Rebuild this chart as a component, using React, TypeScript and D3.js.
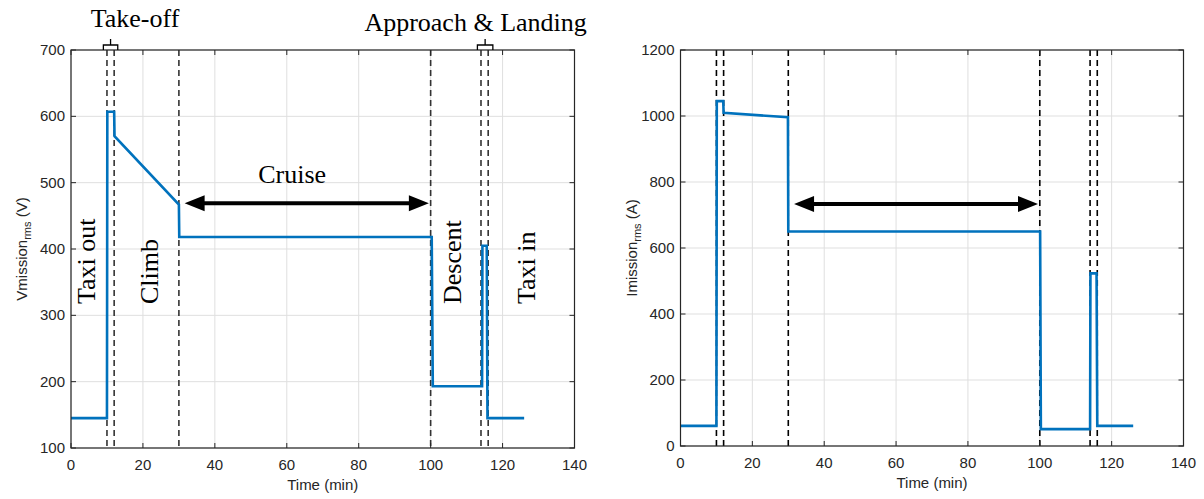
import React from 'react';
import * as d3 from 'd3';

// ---- data ----
const timeTicks = [0, 20, 40, 60, 80, 100, 120, 140];
const vTicks = [100, 200, 300, 400, 500, 600, 700];
const iTicks = [0, 200, 400, 600, 800, 1000, 1200];
const phaseTimes = [10, 12, 30, 100, 114, 116];

const vTime = [0, 10, 10.1, 12, 12.1, 30, 30.1, 100.3, 100.6, 114.3, 114.4, 115.6, 115.8, 126];
const vValue = [145, 145, 607, 607, 570, 467, 418, 418, 193, 193, 405, 405, 145, 145];

const iTime = [0, 10, 10.1, 11.9, 12, 29.9, 30, 100.1, 100.3, 114, 114.1, 115.8, 116, 126];
const iValue = [61, 61, 1045, 1045, 1010, 996, 650, 650, 51, 51, 523, 523, 61, 61];

const phaseLabels = ['Taxi out', 'Climb', 'Descent', 'Taxi in'];
const phaseLabelTimes = [6.7, 24.2, 108.5, 129];

const FONT = '"Liberation Sans", Arial, sans-serif';
const SERIF = '"Liberation Serif", "Times New Roman", serif';
const BLUE = '#0072BD';

type PanelProps = {
  left: number; right: number; top: number; bottom: number;
  yDomain: [number, number]; yTicks: number[];
  time: number[]; values: number[];
  yName: string; yUnit: string; labelX: number;
  dashColor: string; arrowValue: number; annotate: boolean;
};

function Arrow({ x1, x2, y }: { x1: number; x2: number; y: number }) {
  const hl = 20, hw = 8;
  return (
    <g>
      <line x1={x1 + hl - 2} x2={x2 - hl + 2} y1={y} y2={y} stroke="#000" strokeWidth={4} />
      <path d={`M${x1},${y} L${x1 + hl},${y - hw} L${x1 + hl},${y + hw} Z`} fill="#000" />
      <path d={`M${x2},${y} L${x2 - hl},${y - hw} L${x2 - hl},${y + hw} Z`} fill="#000" />
    </g>
  );
}

function Bracket({ xa, xb, y }: { xa: number; xb: number; y: number }) {
  const xm = (xa + xb) / 2;
  return (
    <path
      d={`M${xa},${y} L${xa},${y - 5} L${xb},${y - 5} L${xb},${y} M${xm},${y - 5} L${xm},${y - 11}`}
      fill="none" stroke="#000" strokeWidth={1.3}
    />
  );
}

function Panel(p: PanelProps) {
  const x = d3.scaleLinear().domain([0, 140]).range([p.left, p.right]);
  const y = d3.scaleLinear().domain(p.yDomain).range([p.bottom, p.top]);
  const pts: [number, number][] = p.time.map((t, i) => [t, p.values[i]]);
  const line = d3.line<[number, number]>().x(d => x(d[0])).y(d => y(d[1]));
  const midY = (p.top + p.bottom) / 2;
  const midX = (p.left + p.right) / 2;
  return (
    <g>
      {/* grid */}
      {timeTicks.map(t => (
        <line key={'gx' + t} x1={x(t)} x2={x(t)} y1={p.top} y2={p.bottom} stroke="#dfdfdf" strokeWidth={1} />
      ))}
      {p.yTicks.map(v => (
        <line key={'gy' + v} x1={p.left} x2={p.right} y1={y(v)} y2={y(v)} stroke="#dfdfdf" strokeWidth={1} />
      ))}
      {/* phase dashed lines */}
      {phaseTimes.map(t => (
        <line key={'ph' + t} x1={x(t)} x2={x(t)} y1={p.top} y2={p.bottom}
          stroke={p.dashColor} strokeWidth={1.6} strokeDasharray="6,4" />
      ))}
      {/* data line */}
      <path d={line(pts) || ''} fill="none" stroke={BLUE} strokeWidth={2.6} strokeLinejoin="miter" />
      {/* box */}
      <rect x={p.left} y={p.top} width={p.right - p.left} height={p.bottom - p.top}
        fill="none" stroke="#262626" strokeWidth={1.2} />
      {/* ticks */}
      {timeTicks.map(t => (
        <g key={'tx' + t}>
          <line x1={x(t)} x2={x(t)} y1={p.bottom} y2={p.bottom - 5} stroke="#262626" />
          <line x1={x(t)} x2={x(t)} y1={p.top} y2={p.top + 5} stroke="#262626" />
          <text x={x(t)} y={p.bottom + 22} textAnchor="middle" fontFamily={FONT} fontSize={15} fill="#262626">{t}</text>
        </g>
      ))}
      {p.yTicks.map(v => (
        <g key={'ty' + v}>
          <line x1={p.left} x2={p.left + 5} y1={y(v)} y2={y(v)} stroke="#262626" />
          <line x1={p.right} x2={p.right - 5} y1={y(v)} y2={y(v)} stroke="#262626" />
          <text x={p.left - 6} y={y(v) + 5} textAnchor="end" fontFamily={FONT} fontSize={15} fill="#262626">{v}</text>
        </g>
      ))}
      <text x={midX} y={p.bottom + 42} textAnchor="middle" fontFamily={FONT} fontSize={15} fill="#262626">Time (min)</text>
      <text transform={`translate(${p.labelX},${midY}) rotate(-90)`} textAnchor="middle" fontFamily={FONT} fontSize={15} fill="#262626">
        {p.yName}<tspan fontSize={11} dy={4}>rms</tspan><tspan dy={-4}> ({p.yUnit})</tspan>
      </text>
      <Arrow x1={x(31.6)} x2={x(99.5)} y={y(p.arrowValue)} />
      {p.annotate && (
        <g fontFamily={SERIF} fontSize={26} fill="#000">
          <Bracket xa={x(9)} xb={x(13)} y={p.top} />
          <Bracket xa={x(113)} xb={x(117.3)} y={p.top} />
          <text x={x(17.8)} y={p.top - 23} textAnchor="middle">Take-off</text>
          <text x={x(112.5)} y={p.top - 19} textAnchor="middle">Approach &amp; Landing</text>
          <text x={x(61.5)} y={y(p.arrowValue) - 20} textAnchor="middle">Cruise</text>
          {phaseLabels.map((s, i) => (
            <text key={s} transform={`translate(${x(phaseLabelTimes[i])},${p.bottom - 144}) rotate(-90)`} textAnchor="start">{s}</text>
          ))}
        </g>
      )}
    </g>
  );
}

export default function App() {
  return (
    <svg width={1204} height={499} style={{ position: 'absolute', left: 0, top: 0, background: '#fff' }}>
      <rect width={1204} height={499} fill="#fff" />
      <Panel left={71} right={574.5} top={50} bottom={448} yDomain={[100, 700]} yTicks={vTicks}
        time={vTime} values={vValue} yName="Vmission" yUnit="V" labelX={27}
        dashColor="#333" arrowValue={469} annotate={true} />
      <Panel left={680.5} right={1183.5} top={50} bottom={446} yDomain={[0, 1200]} yTicks={iTicks}
        time={iTime} values={iValue} yName="Imission" yUnit="A" labelX={637}
        dashColor="#000" arrowValue={733} annotate={false} />
    </svg>
  );
}
